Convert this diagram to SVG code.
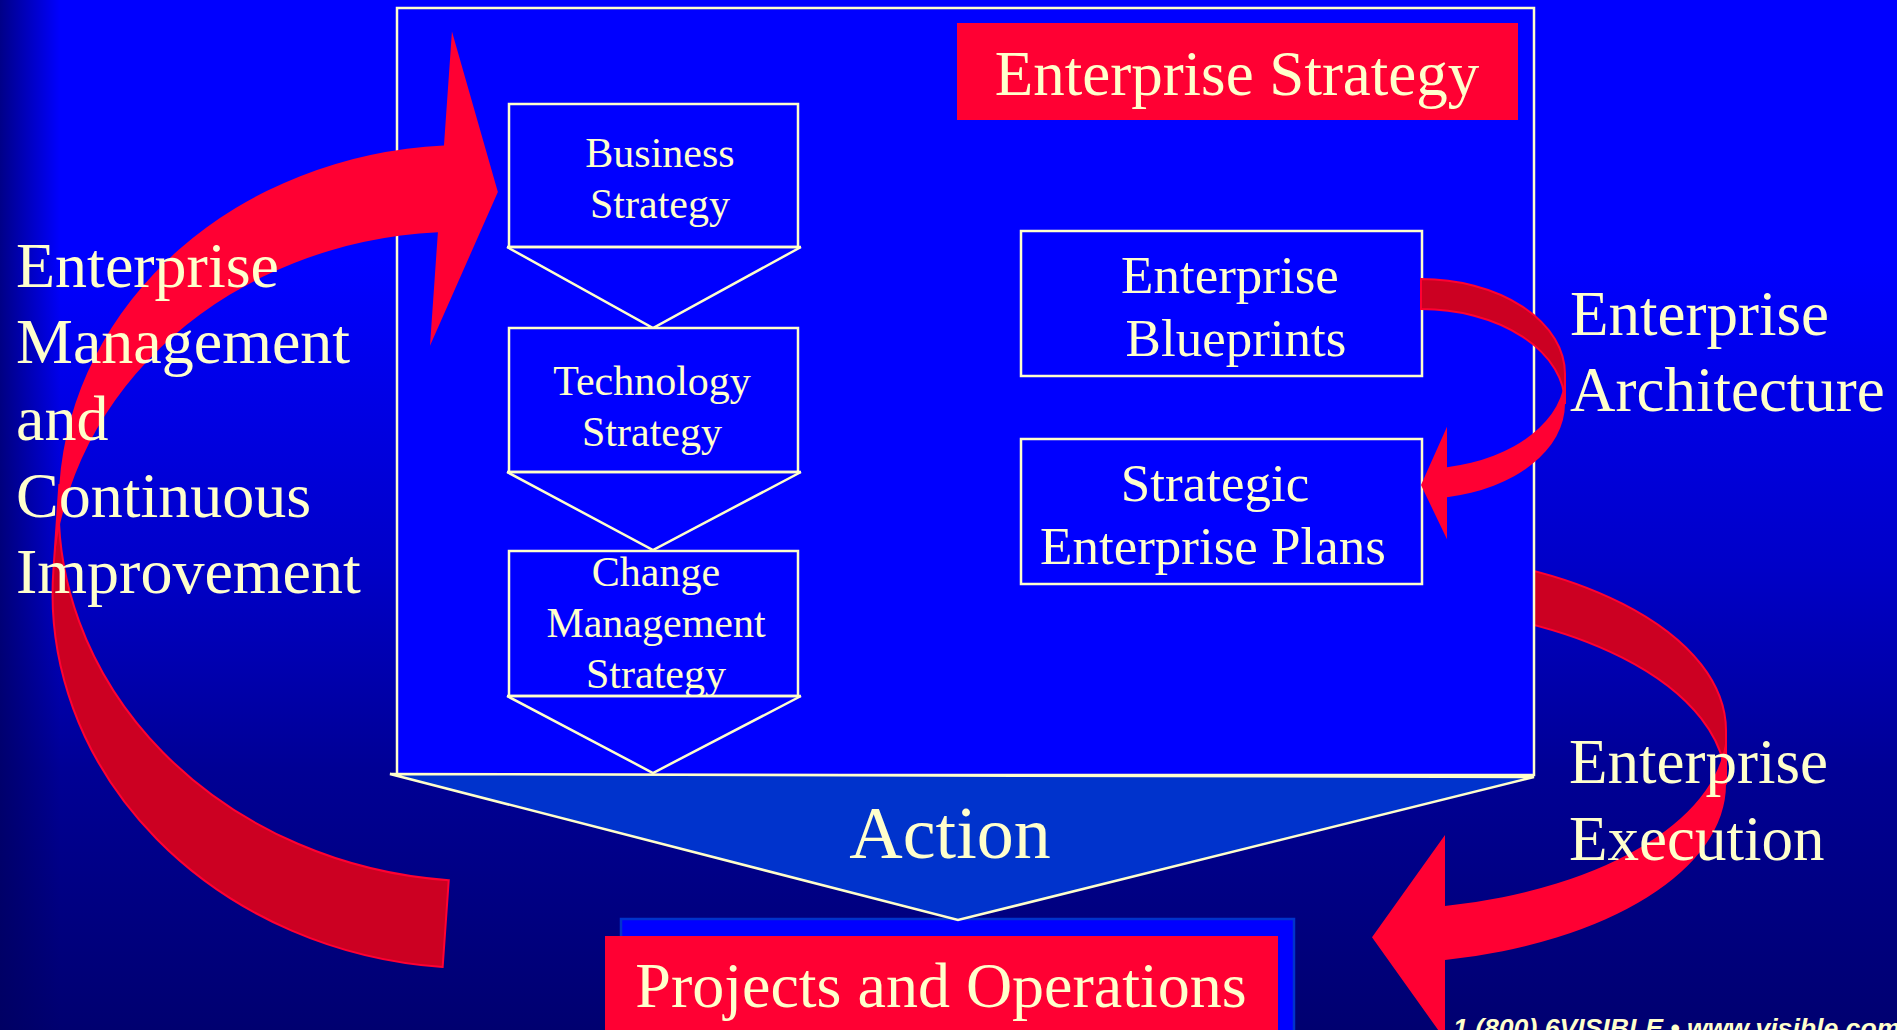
<svg xmlns="http://www.w3.org/2000/svg" width="1897" height="1030" viewBox="0 0 1897 1030">
<defs>
<linearGradient id="bg" x1="0" y1="0" x2="0" y2="1">
<stop offset="0" stop-color="#0000FF"/>
<stop offset="0.25" stop-color="#0000FF"/>
<stop offset="0.55" stop-color="#0000C8"/>
<stop offset="0.75" stop-color="#000094"/>
<stop offset="1" stop-color="#000070"/>
</linearGradient>
<linearGradient id="lside" x1="0" y1="0" x2="1" y2="0">
<stop offset="0" stop-color="#000060" stop-opacity="0.75"/>
<stop offset="1" stop-color="#000060" stop-opacity="0"/>
</linearGradient>
<style>
.box{fill:#0000FF;stroke:#FFFFCC;stroke-width:2.5}
.ln{fill:none;stroke:#FFFFCC;stroke-width:2.5}
.t{font-family:'Liberation Serif','Times New Roman',serif;fill:#FFFFCC}
.c{text-anchor:middle}
.front{fill:#FF0033}
.back{fill:#CC0022;stroke:#FF0033;stroke-width:2}
.redbox{fill:#FF0033}
</style>
</defs>
<rect x="0" y="0" width="1897" height="1030" fill="url(#bg)"/>
<rect x="0" y="0" width="60" height="1030" fill="url(#lside)"/>

<g id="connectors">
<g id="arrow-execution">
<path class="back" d="M1372,551.1 A354 179.4 0 0 1 1726,730.5 L1726,784.5 A354 179.4 0 0 0 1372,605.1 Z"/>
<path class="front" d="M1726,730.5 A354 179.4 0 0 1 1445,906 L1445,835 L1372,937.3 L1445,1039.6 L1445,960 A354 179.4 0 0 0 1726,784.5 Z"/>
</g>
</g>

<g id="enterprise-strategy">
<rect class="box" x="397" y="8" width="1137" height="767"/>
<rect class="redbox" x="957" y="23" width="561" height="97"/>
<text class="t c" x="1237" y="95" font-size="63">Enterprise Strategy</text>
</g>

<g id="action">
<rect x="621" y="919" width="673" height="120" fill="#0000FF" stroke="#0033CC" stroke-width="2.5"/>
<polygon points="390,774 1534,777 958,920" fill="#0033CC" stroke="#FFFFCC" stroke-width="2.5" stroke-linejoin="miter"/>
<text class="t c" x="950" y="858" font-size="74">Action</text>
</g>

<g id="projects-operations">
<rect class="redbox" x="605" y="936" width="673" height="100"/>
<text class="t c" x="941" y="1007" font-size="64">Projects and Operations</text>
</g>

<g id="business-strategy">
<rect class="box" x="509" y="104" width="289" height="143"/>
<polyline class="ln" points="507,247 653,328 801,247"/>
<line class="ln" x1="507" y1="247" x2="801" y2="247"/>
<text class="t c" x="660" y="167" font-size="42">Business</text>
<text class="t c" x="660" y="218" font-size="42">Strategy</text>
</g>

<g id="technology-strategy">
<rect class="box" x="509" y="328" width="289" height="144"/>
<polyline class="ln" points="507,472 653,550 801,472"/>
<line class="ln" x1="507" y1="472" x2="801" y2="472"/>
<text class="t c" x="652" y="395" font-size="42">Technology</text>
<text class="t c" x="652" y="446" font-size="42">Strategy</text>
</g>

<g id="change-management-strategy">
<rect class="box" x="509" y="551" width="289" height="145"/>
<polyline class="ln" points="507,696 653,773 801,696"/>
<line class="ln" x1="507" y1="696" x2="801" y2="696"/>
<text class="t c" x="656" y="586" font-size="42">Change</text>
<text class="t c" x="656" y="637" font-size="42">Management</text>
<text class="t c" x="656" y="688" font-size="42">Strategy</text>
</g>

<g id="enterprise-blueprints">
<rect class="box" x="1021" y="231" width="401" height="145"/>
<text class="t c" x="1230" y="293" font-size="53">Enterprise</text>
<text class="t c" x="1236" y="356" font-size="53">Blueprints</text>
</g>

<g id="strategic-enterprise-plans">
<rect class="box" x="1021" y="439" width="401" height="145"/>
<text class="t c" x="1215" y="501" font-size="53">Strategic</text>
<text class="t c" x="1213" y="564" font-size="53">Enterprise Plans</text>
</g>

<g id="connectors-top">
<g id="arrow-management" transform="rotate(4 498 190)">
<path class="back" d="M81,601 A416 368 0 0 0 497,969 L497,882 A416 368 0 0 1 81,514 Z"/>
<path class="front" d="M441,35 L498,192 L441,350 L441,236.35 A416 368 0 0 0 81,601 L81,514 A416 368 0 0 1 441,149.35 Z"/>
</g>
<g id="arrow-architecture">
<path class="back" d="M1421,279 A144 94.9 0 0 1 1565,373.9 L1565,403.9 A144 94.9 0 0 0 1421,309 Z"/>
<path class="front" d="M1565,373.9 A144 94.9 0 0 1 1447,467.2 L1447,426.7 L1421,485 L1447,539.3 L1447,497.2 A144 94.9 0 0 0 1565,403.9 Z"/>
</g>
</g>

<g id="label-management">
<text class="t" x="16" y="287" font-size="64">Enterprise</text>
<text class="t" x="16" y="363" font-size="64">Management</text>
<text class="t" x="16" y="440" font-size="64">and</text>
<text class="t" x="16" y="517" font-size="64">Continuous</text>
<text class="t" x="16" y="593" font-size="64">Improvement</text>
</g>
<g id="label-architecture">
<text class="t" x="1570" y="335" font-size="63">Enterprise</text>
<text class="t" x="1570" y="411" font-size="63">Architecture</text>
</g>
<g id="label-execution">
<text class="t" x="1569" y="783" font-size="63">Enterprise</text>
<text class="t" x="1569" y="860" font-size="63">Execution</text>
</g>
<text x="1453" y="1037" font-family="'Liberation Sans',Arial,sans-serif" font-weight="bold" font-style="italic" font-size="26.6" fill="#FFFFCC">1 (800) 6VISIBLE • www.visible.com</text>
</svg>
